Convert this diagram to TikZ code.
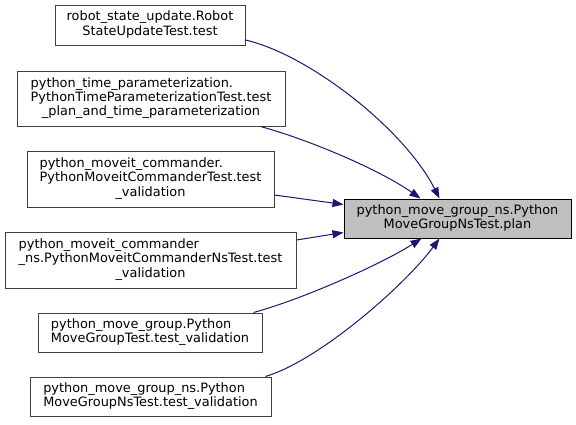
\documentclass[tikz,border=0pt]{standalone}
\usepackage{fontspec}
\setmainfont{DejaVu Sans}
\usepackage{xcolor}
\usepackage{tikz}
\usetikzlibrary{arrows.meta}
\definecolor{DoxEdge}{HTML}{191970}
\definecolor{DoxBorder}{HTML}{404040}
\definecolor{DoxFill}{HTML}{BFBFBF}
\newcommand{\lastline}[1]{\multicolumn{1}{@{}c@{}}{#1}}

\begin{document}
\begin{tikzpicture}[x=1pt,y=-1pt,
  fn/.style={draw=DoxBorder,line width=1pt,fill=white,inner sep=0pt,
    font=\fontsize{12.9}{14.3}\selectfont},
  target/.style={fn,draw=black,fill=DoxFill},
  edge/.style={DoxEdge,line width=1pt,-{Triangle[length=11pt,width=8pt]}}]
\useasboundingbox (0,0) rectangle (576,424);
\node[target,minimum width=227,minimum height=39] (t) at (457.5,218.5)
  {\begin{tabular}{@{}c@{}}python\_move\_group\_ns.Python\\MoveGroupNsTest.plan\end{tabular}};
\node[fn,minimum width=190,minimum height=40] (n1) at (150,25)
  {\begin{tabular}{@{}c@{}}robot\_state\_update.Robot\\StateUpdateTest.test\end{tabular}};
\node[fn,minimum width=268,minimum height=55] (n2) at (151,98.5)
  {\begin{tabular}{@{}l@{}}python\_time\_parameterization.\\PythonTimeParameterizationTest.test\\\lastline{\_plan\_and\_time\_parameterization}\end{tabular}};
\node[fn,minimum width=247,minimum height=56] (n3) at (150.5,179)
  {\begin{tabular}{@{}l@{}}python\_moveit\_commander.\\PythonMoveitCommanderTest.test\\\lastline{\_validation}\end{tabular}};
\node[fn,minimum width=291,minimum height=56] (n4) at (150.5,260)
  {\begin{tabular}{@{}l@{}}python\_moveit\_commander\\\_ns.PythonMoveitCommanderNsTest.test\\\lastline{\_validation}\end{tabular}};
\node[fn,minimum width=224,minimum height=39] (n5) at (150,332.5)
  {\begin{tabular}{@{}l@{}}python\_move\_group.Python\\MoveGroupTest.test\_validation\end{tabular}};
\node[fn,minimum width=241,minimum height=39] (n6) at (150.5,396.5)
  {\begin{tabular}{@{}l@{}}python\_move\_group\_ns.Python\\MoveGroupNsTest.test\_validation\end{tabular}};
% calls into plan
\draw[edge] ([yshift=-15pt]n1.east) .. controls (310,55) and (405,130) .. ([xshift=-18pt]t.north);
\draw[edge] ([xshift=-25pt]n2.south east) .. controls (310,140) and (380,170) .. ([xshift=-37pt]t.north);
\draw[edge] ([yshift=-16pt]n3.east) -- ([yshift=14pt]t.west);
\draw[edge] ([yshift=20pt]n4.east) -- ([yshift=-14pt]t.west);
\draw[edge] ([xshift=-9pt]n5.north east) .. controls (300,300) and (380,265) .. ([xshift=-36pt]t.south);
\draw[edge] ([xshift=-6pt]n6.north east) .. controls (320,360) and (405,285) .. ([xshift=-18pt]t.south);
\end{tikzpicture}
\end{document}
